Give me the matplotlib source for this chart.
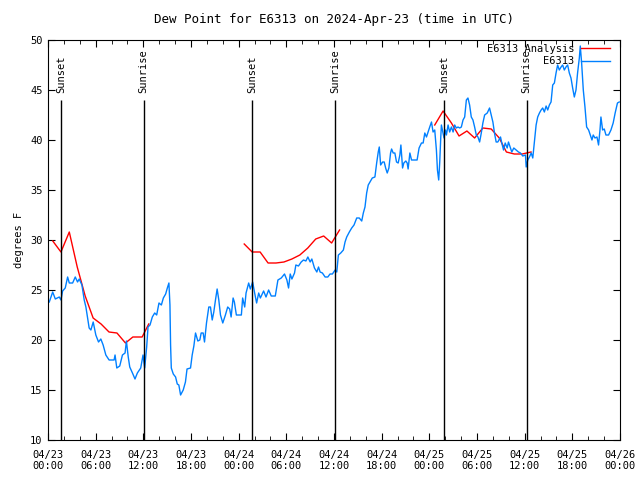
import numpy as np
import matplotlib
matplotlib.use('Agg')
import matplotlib.pyplot as plt
import matplotlib.dates as mdates

plt.rcParams['font.family'] = 'DejaVu Sans Mono'
plt.rcParams['font.size'] = 7.5

# hours after 2024-04-23 00:00 UTC
obs_hours = [0.16, 0.59, 0.92, 1.42, 1.63, 1.84, 2.17, 2.47, 2.68, 3.10, 3.43, 3.72, 3.93, 4.27, 4.56,
             4.77, 4.98, 5.18, 5.40, 5.69, 6.02, 6.36, 6.65, 6.94, 7.28, 7.69, 8.32, 8.44, 8.66, 9.03,
             9.37, 9.70, 9.87, 10.10, 10.29, 10.63, 10.95, 11.25, 11.67, 11.96, 12.17, 12.42, 12.59,
             12.84, 13.13, 13.43, 13.68, 13.97, 14.27, 14.52, 14.81, 15.02, 15.22, 15.35, 15.43, 15.52,
             15.77, 16.06, 16.27, 16.47, 16.69, 17.02, 17.30, 17.50, 17.94, 18.15, 18.36, 18.57, 18.86,
             19.11, 19.28, 19.53, 19.70, 19.95, 20.24, 20.45, 20.67, 20.87, 21.08, 21.29, 21.50, 21.71,
             22.00, 22.33, 22.62, 22.87, 23.05, 23.30, 23.46, 23.71, 24.00, 24.34, 24.50, 24.76, 24.93,
             25.26, 25.47, 25.76, 26.01, 26.26, 26.52, 26.73, 27.14, 27.44, 27.77, 28.10, 28.61, 28.94,
             29.36, 29.77, 30.07, 30.28, 30.49, 30.70, 31.03, 31.20, 31.53, 31.87, 32.16, 32.46, 32.71,
             33.00, 33.21, 33.54, 33.84, 34.05, 34.25, 34.54, 34.88, 35.22, 35.50, 35.80, 36.14, 36.35,
             36.55, 36.85, 37.18, 37.39, 37.60, 37.93, 38.23, 38.52, 38.86, 39.18, 39.49, 39.69, 39.90,
             40.11, 40.31, 40.53, 40.82, 41.15, 41.37, 41.57, 41.70, 41.87, 42.12, 42.32, 42.50, 42.70,
             42.91, 43.12, 43.25, 43.45, 43.66, 43.87, 44.08, 44.29, 44.42, 44.63, 44.79, 45.04, 45.21,
             45.33, 45.55, 45.76, 46.46, 46.71, 47.01, 47.22, 47.43, 47.64, 47.84, 48.05, 48.27, 48.47,
             48.68, 48.89, 49.02, 49.18, 49.31, 49.44, 49.52, 49.73, 49.85, 50.03, 50.15, 50.36, 50.56,
             50.78, 50.99, 51.19, 51.40, 51.61, 51.82, 52.03, 52.24, 52.45, 52.66, 52.86, 53.07, 53.28,
             53.49, 53.70, 53.91, 54.12, 54.33, 54.54, 54.74, 54.96, 55.29, 55.58, 55.79, 56.00, 56.20,
             56.41, 56.62, 56.96, 57.12, 57.34, 57.55, 57.80, 57.96, 58.21, 58.38, 58.63, 58.93, 59.22,
             59.47, 59.76, 60.10, 60.19, 60.39, 60.60, 60.82, 61.02, 61.23, 61.44, 61.64, 61.86, 62.07,
             62.27, 62.48, 62.70, 62.90, 63.11, 63.32, 63.53, 63.74, 63.95, 64.15, 64.36, 64.58, 64.78,
             64.99, 65.20, 65.41, 65.62, 65.83, 66.04, 66.25, 66.46, 66.66, 66.88, 67.00, 67.17, 67.38,
             67.59, 67.80, 68.05, 68.26, 68.47, 68.63, 68.85, 69.10, 69.30, 69.48, 69.60, 69.81, 70.02,
             70.23, 70.56, 70.86, 71.14, 71.39, 71.68, 71.90]
obs_dewp = [23.8, 24.8, 24.1, 24.3, 24.0, 24.9, 25.2, 26.3, 25.7, 25.7, 26.3, 25.8, 26.1, 25.5, 24.0,
            23.3, 22.2, 21.2, 21.0, 21.8, 20.5, 19.8, 20.1, 19.5, 18.5, 18.0, 18.0, 18.5, 17.2, 17.4,
            18.5, 18.7, 19.9, 18.3, 17.3, 16.7, 16.1, 16.7, 17.2, 18.5, 17.2, 19.3, 21.3,
            21.5, 22.3, 22.7, 22.5, 23.7, 23.5, 24.2, 24.6, 25.2, 25.7, 23.5, 19.5, 17.2,
            16.6, 16.3, 15.6, 15.5, 14.5, 15.0, 15.8, 17.1, 17.2, 18.5, 19.4, 20.7, 19.9,
            20.0, 20.7, 20.7, 19.8, 21.7, 23.3, 23.3, 22.0, 22.8, 24.0, 25.1, 24.0, 22.5,
            21.7, 22.5, 23.3, 23.1, 22.3, 24.2, 23.8, 22.5, 22.5, 22.5, 24.2, 23.3, 24.7,
            25.7, 25.1, 25.8, 24.7, 23.7, 24.7, 24.2, 24.9, 24.3, 25.0, 24.4, 24.4, 26.0,
            26.2, 26.6, 26.0, 25.2, 26.6, 26.1, 26.7, 27.5, 27.4, 27.8, 28.0, 27.9, 28.3,
            27.8, 28.1, 27.2, 26.8, 27.3, 26.8, 26.7, 26.3, 26.3, 26.6, 26.6, 27.0, 26.8,
            28.5, 28.7, 29.0, 29.8, 30.3, 30.8, 31.2, 31.5, 32.2, 32.2, 31.9, 32.7, 33.3,
            34.7, 35.5, 35.8, 36.2, 36.3, 37.7, 38.8, 39.3, 37.5, 37.8, 37.8, 37.2, 36.7,
            37.2, 38.7, 39.1, 38.7, 38.7, 37.8, 37.7, 38.5, 39.5, 37.2, 37.7, 37.9, 37.7,
            37.1, 38.7, 38.0, 38.0, 39.2, 39.7, 39.7, 40.7, 40.3, 40.8, 41.3, 41.8, 40.8,
            41.0, 39.0, 37.0, 36.0, 37.8, 40.3, 41.5, 40.7, 40.2, 41.0, 40.5, 41.5, 40.8,
            41.3, 40.8, 41.5, 41.2, 41.3, 41.2, 41.3, 42.0, 42.3, 44.0, 44.2, 43.5, 42.3,
            42.0, 41.3, 40.5, 40.3, 39.8, 40.7, 41.7, 42.5, 42.7, 43.2, 42.5, 41.8, 40.7,
            39.8, 39.8, 40.3, 39.7, 39.0, 39.7, 39.2, 39.8, 39.2, 38.8, 39.2, 39.0, 38.8,
            38.7, 38.4, 38.5, 37.3, 38.0, 38.3, 38.7, 38.2, 39.8, 41.5, 42.3, 42.7, 43.0,
            43.2, 42.8, 43.4, 43.0, 43.5, 43.8, 45.5, 45.7, 46.7, 47.5, 47.0, 47.3, 47.5,
            47.0, 47.3, 47.5, 46.7, 46.2, 45.2, 44.3, 45.0, 46.7, 48.2, 49.4, 47.7, 45.0,
            43.3, 41.3, 41.0, 40.5, 40.0, 40.5, 40.2, 40.3, 39.5, 41.0, 42.3, 41.0, 41.1,
            40.5, 40.5, 41.0, 41.7, 42.7, 43.7, 43.8]

# analysis, three pieces (gaps between them)
ana_hours_1 = [0.60, 1.63, 2.68, 3.68, 4.68, 5.68, 6.68, 7.68, 8.68, 9.75, 10.68, 11.85, 12.68]
ana_dewp_1 = [29.9, 28.8, 30.8, 27.3, 24.4, 22.2, 21.6, 20.8, 20.7, 19.7, 20.3, 20.3, 21.6]
ana_hours_2 = [24.7, 25.7, 26.7, 27.7, 28.7, 29.7, 30.7, 31.7, 32.7, 33.7, 34.7, 35.7, 36.7]
ana_dewp_2 = [29.6, 28.8, 28.8, 27.7, 27.7, 27.8, 28.1, 28.5, 29.2, 30.1, 30.4, 29.7, 31.0]
ana_hours_3 = [48.68, 49.73, 50.78, 51.74, 52.73, 53.70, 54.74, 55.79, 56.80, 57.70, 58.70, 59.70, 60.80]
ana_dewp_3 = [41.5, 42.9, 41.7, 40.4, 40.9, 40.2, 41.2, 41.1, 40.2, 38.8, 38.6, 38.6, 38.8]

sun_hours = [1.62, 12.05, 25.72, 36.15, 49.87, 60.25]
sun_names = ['Sunset', 'Sunrise', 'Sunset', 'Sunrise', 'Sunset', 'Sunrise']

base = np.datetime64('2024-04-23T00:00')


def to_time(h):
    return base + (np.array(h) * 3600).astype('timedelta64[s]')


fig = plt.figure(figsize=(6.4, 4.8), dpi=100)
ax = fig.add_axes([48 / 640, 40 / 480, 572 / 640, 400 / 480])

red = '#ff0000'
blue = '#0080ff'
ax.plot(to_time(ana_hours_1), ana_dewp_1, color=red, lw=1, label='E6313 Analysis')
ax.plot(to_time(ana_hours_2), ana_dewp_2, color=red, lw=1)
ax.plot(to_time(ana_hours_3), ana_dewp_3, color=red, lw=1)
ax.plot(to_time(obs_hours), obs_dewp, color=blue, lw=1, label='E6313')

for h, name in zip(sun_hours, sun_names):
    t = to_time(h)
    ax.vlines(t, 10, 44, color='black', lw=1)
    ax.text(t, 44.7, name, rotation=90, ha='center', va='bottom')

ax.set_xlim(np.datetime64('2024-04-23T00:00'), np.datetime64('2024-04-26T00:00'))
ax.set_ylim(10, 50)
ax.set_yticks(np.arange(10, 51, 5))
ax.xaxis.set_major_locator(mdates.HourLocator(byhour=[0, 6, 12, 18]))
ax.xaxis.set_minor_locator(mdates.HourLocator(interval=2))
ax.xaxis.set_major_formatter(mdates.DateFormatter('%m/%d\n%H:%M'))
ax.tick_params(which='both', direction='in', top=True, right=True)
ax.tick_params(which='major', length=5, pad=7)
ax.tick_params(which='minor', length=3)
ax.tick_params(axis='y', pad=4)

ax.set_ylabel('degrees F')
ax.set_title('Dew Point for E6313 on 2024-Apr-23 (time in UTC)', pad=12)

ax.legend(loc='upper right', bbox_to_anchor=(0.9825, 0.991), frameon=False, markerfirst=False,
          borderpad=0, borderaxespad=0, handlelength=2.8, handletextpad=0.65, labelspacing=0.25)

fig.savefig('out.png', dpi=100)
